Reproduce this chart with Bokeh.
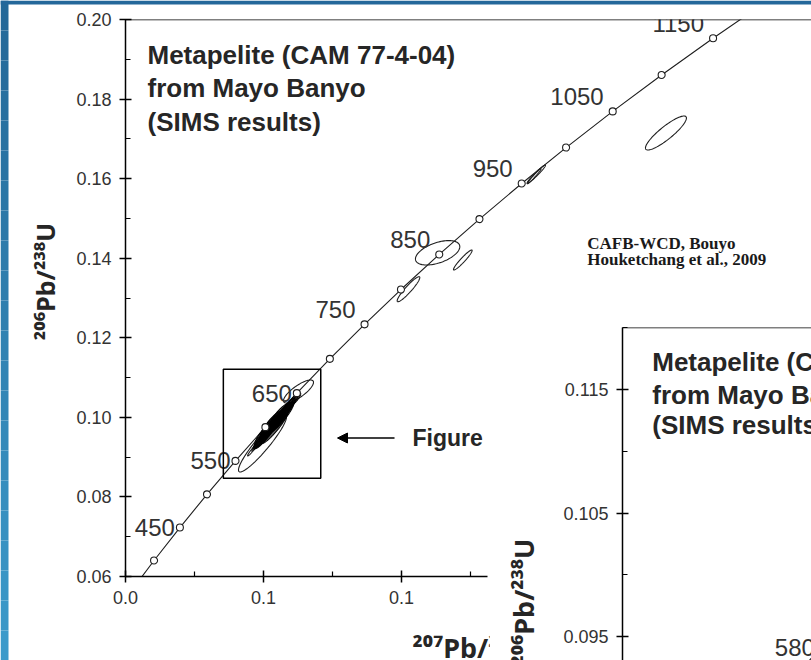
import numpy as np
from bokeh.plotting import figure
from bokeh.models import (ColumnDataSource, FixedTicker, NumeralTickFormatter, Label, Span,
                          Arrow, NormalHead, GridBox)
from bokeh.core.properties import value
from bokeh.embed import file_html
from bokeh.resources import INLINE

# ---------------- data ----------------
# concordia: age (Ma), 207Pb/235U, 206Pb/238U
conc_age = [350, 400, 450, 500, 550, 600, 650, 700, 750, 800, 850, 900,
            950, 1000, 1050, 1100, 1150, 1200]
conc_r75 = [0.4116, 0.4828, 0.5577, 0.6363, 0.7189, 0.8056, 0.8968, 0.9925,
            1.0931, 1.1987, 1.3097, 1.4263, 1.5488, 1.6774, 1.8126, 1.9545,
            2.1036, 2.2603]
conc_r68 = [0.05580, 0.06402, 0.07230, 0.08065, 0.08906, 0.09754, 0.10609,
            0.11470, 0.12338, 0.13213, 0.14095, 0.14983, 0.15878, 0.16781,
            0.17690, 0.18606, 0.19530, 0.20461]
marker_ages = [400, 450, 500, 550, 600, 650, 700, 750, 800, 850, 900, 950,
               1000, 1050, 1100, 1150]
label_ages = [450, 550, 650, 750, 850, 950, 1050, 1150]

# analyses: centre, 2-sigma half widths, error correlation
ell_x = [1.967, 1.591, 1.585, 1.305, 1.378, 1.2205, 0.9016, 0.7972, 0.768, 0.782, 0.796]
ell_y = [0.17147, 0.16111, 0.1606, 0.14136, 0.13955, 0.13221, 0.1065, 0.09343, 0.0918, 0.0931, 0.0944]
ell_ex = [0.0594, 0.0267, 0.0200, 0.0643, 0.0270, 0.0328, 0.0435, 0.0696, 0.014, 0.016, 0.015]
ell_ey = [0.00427, 0.00231, 0.0019, 0.00307, 0.00251, 0.00314, 0.00289, 0.00716, 0.0015, 0.0016, 0.0016]
ell_rho = [0.88, 0.97, 0.98, 0.5, 0.95, 0.93, 0.8, 0.93, 0.96, 0.96, 0.96]

# dense cluster of analyses (about 580-650 Ma)
clu_x = [0.786, 0.796, 0.804, 0.814, 0.824, 0.836, 0.846, 0.858, 0.870, 0.882, 0.894, 0.832, 0.852, 0.818]
clu_y = [0.09371, 0.09448, 0.09575, 0.09652, 0.09809, 0.09876, 0.10013, 0.10100, 0.10237, 0.10374, 0.10461, 0.09760, 0.10000, 0.09780]
clu_ex = [0.016, 0.022, 0.030, 0.026, 0.034, 0.028, 0.032, 0.025, 0.022, 0.018, 0.014, 0.040, 0.036, 0.024]
clu_ey = [0.0017, 0.0023, 0.0032, 0.0028, 0.0036, 0.0030, 0.0034, 0.0027, 0.0024, 0.0020, 0.0015, 0.0042, 0.0038, 0.0026]
clu_rho = [0.88, 0.87, 0.85, 0.88, 0.86, 0.87, 0.85, 0.87, 0.86, 0.88, 0.88, 0.92, 0.92, 0.86]

# "Figure" box (207/235, 206/238 limits)
box_x = [0.6837, 0.9661]
box_y = [0.08468, 0.11207]

# axes ticks
x_major = [0.4, 0.8, 1.2, 1.6]
x_minor = [0.6, 1.0, 1.4]
x_labels = {0.4: "0.0", 0.8: "0.1", 1.2: "0.1"}
y_major = [0.06, 0.08, 0.10, 0.12, 0.14, 0.16, 0.18, 0.20]
y_minor = [0.07, 0.09, 0.11, 0.13, 0.15, 0.17, 0.19]

# inset
in_age = [560, 570, 580, 590, 600]
in_r75 = [0.7359, 0.7531, 0.7704, 0.7879, 0.8056]
in_r68 = [0.09076, 0.09245, 0.09414, 0.09584, 0.09754]
in_y_major = [0.095, 0.105, 0.115]
in_y_minor = [0.100, 0.110, 0.120]

SANS = "Liberation Sans"
SUPFONT = "Noto Sans"
TXT = "#262626"
LINE = "#1e1e1e"

t = np.linspace(0, 2 * np.pi, 100)


def ellipse(cx, cy, ex, ey, rho):
    xs = cx + ex * np.cos(t)
    ys = cy + ey * (rho * np.cos(t) + np.sqrt(1 - rho ** 2) * np.sin(t))
    return list(xs), list(ys)


def style_axis(ax, size="18px"):
    ax.axis_line_width = 1.5
    ax.axis_line_color = "black"
    ax.major_tick_line_width = 1.5
    ax.minor_tick_line_width = 1.2
    ax.major_tick_in = 6
    ax.major_tick_out = 6
    ax.minor_tick_in = 5
    ax.minor_tick_out = 0
    ax.major_label_text_font = SANS
    ax.major_label_text_font_size = size
    ax.major_label_text_color = "#333333"
    ax.major_label_standoff = 8


def overlay():
    o = figure(width=811, height=660, x_range=(0, 811), y_range=(660, 0),
               output_backend="svg", toolbar_location=None,
               x_axis_location=None, y_axis_location=None, min_border=0,
               min_border_left=0, min_border_right=0, min_border_top=0, min_border_bottom=0)
    o.frame_align = False
    o.outline_line_color = None
    for g in o.grid:
        g.visible = False
    o.background_fill_color = None
    o.border_fill_color = None
    return o


# ---------------- main figure ----------------
p = figure(width=811, height=660, x_range=(0.4, 2.389), y_range=(0.06, 0.20),
           output_backend="svg", toolbar_location=None,
           min_border_left=125, min_border_right=0, min_border_top=19, min_border_bottom=84)
p.frame_align = False
p.outline_line_color = None
p.grid.visible = False
p.background_fill_color = "white"
p.border_fill_color = "white"

xa = p.xaxis[0]
xa.ticker = FixedTicker(ticks=x_major, minor_ticks=x_minor)
xa.major_label_overrides = x_labels
xa.bounds = (0.4, 1.451)
style_axis(xa)
ya = p.yaxis[0]
ya.ticker = FixedTicker(ticks=y_major, minor_ticks=y_minor)
ya.formatter = NumeralTickFormatter(format="0.00")
style_axis(ya)

p.add_layout(Span(location=0.20, dimension="width", line_color="black", line_width=1.5))

# concordia
p.line(conc_r75, conc_r68, line_color=LINE, line_width=1.1)

# ellipses
exs, eys = [], []
for i in range(len(ell_x)):
    a, b = ellipse(ell_x[i], ell_y[i], ell_ex[i], ell_ey[i], ell_rho[i])
    exs.append(a); eys.append(b)
p.patches(exs, eys, fill_color=None, line_color=LINE, line_width=1.1)

cxs, cys = [], []
for i in range(len(clu_x)):
    a, b = ellipse(clu_x[i], clu_y[i], clu_ex[i], clu_ey[i], clu_rho[i])
    cxs.append(a); cys.append(b)
p.patches(cxs, cys, fill_color="black", fill_alpha=0.6, line_color="black", line_width=1.1)

# age markers
idx = {a: i for i, a in enumerate(conc_age)}
p.scatter([conc_r75[idx[a]] for a in marker_ages], [conc_r68[idx[a]] for a in marker_ages],
          marker="circle", size=7, fill_color="white", line_color=LINE, line_width=1.1)

lab_src = ColumnDataSource(dict(
    x=[conc_r75[idx[a]] for a in label_ages],
    y=[conc_r68[idx[a]] for a in label_ages],
    text=[str(a) for a in label_ages],
    xo=[-5 if a < 700 else -9 for a in label_ages],
    yo=[0 if a < 700 else -15 for a in label_ages],
))
p.text(x="x", y="y", text="text", source=lab_src, x_offset="xo", y_offset="yo",
       text_align="right", text_baseline="middle", text_font=value(SANS),
       text_font_size="24px", text_color="#333333")

# "Figure" box and arrow
p.quad(left=[box_x[0]], right=[box_x[1]], bottom=[box_y[0]], top=[box_y[1]],
       fill_color=None, line_color="black", line_width=1.5)
p.add_layout(Arrow(end=NormalHead(size=10, fill_color="black", line_color="black"),
                   x_start=1.1800, y_start=0.09481, x_end=1.0147, y_end=0.09481,
                   line_color="black", line_width=1.6))
p.add_layout(Label(x=1.2321, y=0.09481, text="Figure", text_font=SANS, text_font_style="bold",
                   text_font_size="23px", text_color=TXT, text_baseline="middle"))

# titles
for txt, yy in zip(["Metapelite (CAM 77-4-04)", "from Mayo Banyo", "(SIMS results)"],
                   [0.19108, 0.18266, 0.17424]):
    p.add_layout(Label(x=0.4638, y=yy, text=txt, text_font=SANS, text_font_style="bold",
                       text_font_size="26px", text_color=TXT, text_baseline="alphabetic"))

for txt, yy in zip(["CAFB-WCD, Bouyo", "Houketchang et al., 2009"], [0.14382, 0.13980]):
    p.add_layout(Label(x=1.7387, y=yy, text=txt, text_font="Liberation Serif",
                       text_font_style="bold", text_font_size="17px", text_color="#1a1a1a",
                       text_baseline="alphabetic"))

# ---------------- layer under the inset: x-axis title of the main plot ----------------
ov1 = overlay()
ov1.add_layout(Label(x=412, y=647, text="²⁰⁷Pb/²³⁵U", text_font=SUPFONT,
                     text_font_style="bold", text_font_size="27px", text_color=TXT,
                     text_baseline="alphabetic"))

# ---------------- inset figure ----------------
q = figure(width=322, height=360, x_range=(0.585, 0.7616), y_range=(0.09308, 0.12),
           output_backend="svg", toolbar_location=None, x_axis_location=None,
           min_border_left=133, min_border_right=0, min_border_top=27, min_border_bottom=0)
q.frame_align = False
q.outline_line_color = None
q.grid.visible = False
q.background_fill_color = "white"
q.border_fill_color = "white"
qa = q.yaxis[0]
qa.ticker = FixedTicker(ticks=in_y_major, minor_ticks=in_y_minor)
qa.formatter = NumeralTickFormatter(format="0.000")
style_axis(qa)
q.add_layout(Span(location=0.12, dimension="width", line_color="black", line_width=1.5))

q.line(in_r75, in_r68, line_color=LINE, line_width=1.1)
q.scatter(in_r75, in_r68, marker="circle", size=8, fill_color="white", line_color=LINE)
q.add_layout(Label(x=in_r75[2], y=in_r68[2], x_offset=-6, text=str(in_age[2]),
                   text_align="right", text_baseline="middle", text_font=SANS,
                   text_font_size="24px", text_color="#333333"))

for txt, yy in zip(["Metapelite (CAM 77-4-04)", "from Mayo Banyo", "(SIMS results)"],
                   [0.11720, 0.11458, 0.11208]):
    q.add_layout(Label(x=0.6128, y=yy, text=txt, text_font=SANS, text_font_style="bold",
                       text_font_size="26px", text_color=TXT, text_baseline="alphabetic"))

# ---------------- top layer: y-axis titles and slide background strips ----------------
ov2 = overlay()
band_edges = np.linspace(0, 660, 23)
band_cols = ["#%02x%02x%02x" % (int(36 + 24 * f), int(104 + 50 * f), int(152 + 50 * f))
             for f in np.linspace(0, 1, 22)]
ov2.quad(left=0, right=8, top=band_edges[:-1], bottom=band_edges[1:],
         fill_color=band_cols, line_color=None)
ov2.quad(left=[0], right=[811], top=[0], bottom=[4], fill_color="#24679a", line_color=None)
ov2.add_layout(Label(x=44, y=281, text="²⁰⁶Pb/²³⁸U", angle=np.pi / 2,
                     text_align="center", text_baseline="alphabetic", text_font=SUPFONT,
                     text_font_style="bold", text_font_size="25px", text_color=TXT))
ov2.add_layout(Label(x=523, y=538, text="²⁰⁶Pb/²³⁸U", angle=np.pi / 2,
                     text_align="right", text_baseline="alphabetic", text_font=SUPFONT,
                     text_font_style="bold", text_font_size="27px", text_color=TXT))

layout = GridBox(children=[(p, 0, 0, 2, 2), (ov1, 0, 0, 2, 2), (q, 1, 1, 1, 1),
                           (ov2, 0, 0, 2, 2)],
                 rows=["300px", "360px"], cols=["489px", "322px"])

open("out.html", "w").write(file_html(layout, INLINE))
